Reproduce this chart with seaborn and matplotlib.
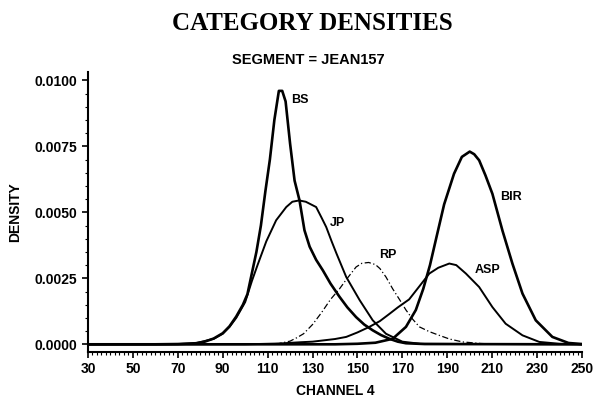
import matplotlib
matplotlib.use("Agg")
import matplotlib.pyplot as plt
from matplotlib.ticker import MultipleLocator, FixedLocator
import seaborn as sns
import pandas as pd

# ---- data ----
bs_x = [30, 60, 70, 78, 82, 86, 90, 93, 96, 99, 101, 103, 105, 107, 109, 111, 113, 115, 116.5,
        118, 120, 122, 124.2, 126.4, 128.7, 131.6, 134.6, 138, 142, 145.5, 149.4, 153, 156.8, 160.5,
        164.2, 168, 171.6, 180, 250]
bs_y = [0, 0, 0.00001, 0.00004, 0.0001, 0.00022, 0.00042, 0.00068, 0.00105, 0.0015, 0.0019, 0.0027,
        0.0035, 0.0045, 0.0058, 0.0070, 0.0085, 0.0096, 0.0096,
        0.0092, 0.0076, 0.0062, 0.00545, 0.00432, 0.0037, 0.0032, 0.0028, 0.0023, 0.0018, 0.0014,
        0.00103, 0.00075, 0.00053, 0.00035, 0.00021, 0.0001, 0.00004, 0.00001, 0]

jp_x = [30, 70, 78, 86, 90, 93, 96, 100, 103, 105.5, 109.4, 113.8, 118.3, 121, 124, 127, 131.6,
        134, 136.1, 138.5, 140.7, 145, 151, 156.8, 162.7, 170, 178, 250]
jp_y = [0, 0.00001, 0.00004, 0.00021, 0.0004, 0.00066, 0.001, 0.0016, 0.0024, 0.003, 0.0039,
        0.0047, 0.0052, 0.0054, 0.00545, 0.0054, 0.0052,
        0.0048, 0.00444, 0.0039, 0.00343, 0.00255, 0.00167, 0.00091, 0.0004, 0.0001, 0.00002, 0]

rp_x = [30, 100, 115, 120, 123, 126, 130, 134, 138, 142, 145, 149.4, 152, 155, 158, 160,
        162.7, 165.7, 168.7, 171.6, 174.6, 177.6, 182, 186.4, 191, 196.8, 205, 215, 250]
rp_y = [0, 0, 0.00003, 0.00012, 0.00025, 0.0004, 0.00075, 0.0012, 0.0017, 0.0021, 0.00245,
        0.00293, 0.00307, 0.0031, 0.00302, 0.00287,
        0.00255, 0.0021, 0.0017, 0.0013, 0.00095, 0.00066, 0.00048, 0.00034, 0.0002, 0.00009,
        0.00003, 0, 0]

bir_x = [30, 140, 150, 158, 165.7, 171.6, 176, 179.3, 182.3, 185.3, 188.6, 193, 196.5, 200,
         202, 204.2, 207, 210.1, 214.6, 219, 223.5, 229.4, 236.8, 244, 250]
bir_y = [0, 0, 0.00002, 0.00006, 0.00021, 0.00066, 0.0013, 0.0021, 0.003, 0.0041, 0.0053,
         0.00646, 0.0071, 0.0073,
         0.0072, 0.00697, 0.0064, 0.0057, 0.0043, 0.00306, 0.00192, 0.00091, 0.00028, 0.00005,
         0.00001]

asp_x = [30, 100, 115, 125, 130, 140, 145, 150, 155.3, 160, 164.2, 168, 173, 177.6, 182, 186,
         190.9, 194, 198.3, 204.2, 210.1, 216, 223.5, 231, 240, 250]
asp_y = [0, 0, 0.00003, 0.00008, 0.0001, 0.0002, 0.00028, 0.00045, 0.00066, 0.00088, 0.00115,
         0.0014, 0.0017, 0.0022, 0.00268, 0.0029,
         0.00306, 0.003, 0.00268, 0.00217, 0.00141, 0.00078, 0.00034, 0.00009, 0.00002, 0]

categories = ["BS", "JP", "RP", "BIR", "ASP"]
x_ticks = [30, 50, 70, 90, 110, 130, 150, 170, 190, 210, 230, 250]
y_ticks = [0.0, 0.0025, 0.0050, 0.0075, 0.0100]
y_tick_labels = ["0.0000", "0.0025", "0.0050", "0.0075", "0.0100"]

series = {"BS": (bs_x, bs_y), "JP": (jp_x, jp_y), "RP": (rp_x, rp_y),
          "BIR": (bir_x, bir_y), "ASP": (asp_x, asp_y)}

frames = []
for c in categories:
    xs, ys = series[c]
    frames.append(pd.DataFrame({"channel": xs, "density": ys, "category": c}))
df = pd.concat(frames, ignore_index=True)

# ---- drawing ----
sns.set_style("ticks")
plt.rcParams["font.family"] = ["Liberation Sans", "DejaVu Sans"]
plt.rcParams["text.color"] = "black"
plt.rcParams["axes.labelcolor"] = "black"
plt.rcParams["xtick.color"] = "black"
plt.rcParams["ytick.color"] = "black"

fig = plt.figure(figsize=(5.97, 4.03), dpi=100)
ax_bottom = 351.7
ax_top = 72.4
ax = fig.add_axes([88 / 597, (403 - ax_bottom) / 403, (582 - 88) / 597, (ax_bottom - ax_top) / 403])

styles = {
    "BS": dict(lw=1.9, ls="-"),
    "JP": dict(lw=1.4, ls="-"),
    "RP": dict(lw=0.9, ls=(0, (5, 2, 1, 2))),
    "BIR": dict(lw=1.9, ls="-"),
    "ASP": dict(lw=1.4, ls="-"),
}
for c in categories:
    sub = df[df["category"] == c]
    sns.lineplot(data=sub, x="channel", y="density", ax=ax, color="black",
                 estimator=None, sort=False, legend=False,
                 linewidth=styles[c]["lw"], linestyle=styles[c]["ls"])

label_pos = {"BS": (124.2, 0.00924), "JP": (140.9, 0.0046), "RP": (163.5, 0.00337),
             "BIR": (218.3, 0.00558), "ASP": (207.9, 0.0028)}
for c in categories:
    lx, ly = label_pos[c]
    ax.text(lx, ly, c, ha="center", va="center", fontsize=9, fontweight="bold")

ax.set_xlim(30, 250)
ax.set_ylim(-0.00028, 0.0103)
ax.xaxis.set_major_locator(FixedLocator(x_ticks))
ax.xaxis.set_minor_locator(MultipleLocator(2))
ax.yaxis.set_major_locator(FixedLocator(y_ticks))
ax.yaxis.set_minor_locator(MultipleLocator(0.0005))
ax.set_yticklabels(y_tick_labels)
ax.set_xticklabels([str(t) for t in x_ticks])

for s in ["top", "right"]:
    ax.spines[s].set_visible(False)
for s in ["left", "bottom"]:
    ax.spines[s].set_linewidth(1.5)
    ax.spines[s].set_color("black")

ax.tick_params(axis="both", which="major", length=4.5, width=1.2, direction="out",
               labelsize=10, colors="black")
ax.tick_params(axis="x", which="major", pad=3)
ax.tick_params(axis="y", which="major", pad=3)
ax.tick_params(axis="both", which="minor", length=2.5, width=0.8, direction="out")
for lab in ax.get_xticklabels() + ax.get_yticklabels():
    lab.set_fontweight("bold")

ax.set_xlabel("CHANNEL 4", fontsize=10, fontweight="bold", labelpad=6)
ax.set_ylabel("DENSITY", fontsize=10, fontweight="bold", labelpad=9)

fig.text(312 / 597, 1 - 24 / 403, "CATEGORY DENSITIES", ha="center", va="center",
         fontsize=18, fontweight="bold", family=["Liberation Serif", "DejaVu Serif"])
fig.text(308 / 597, 1 - 60 / 403, "SEGMENT = JEAN157", ha="center", va="center",
         fontsize=10.5, fontweight="bold")

fig.savefig("out.png", dpi=100)
